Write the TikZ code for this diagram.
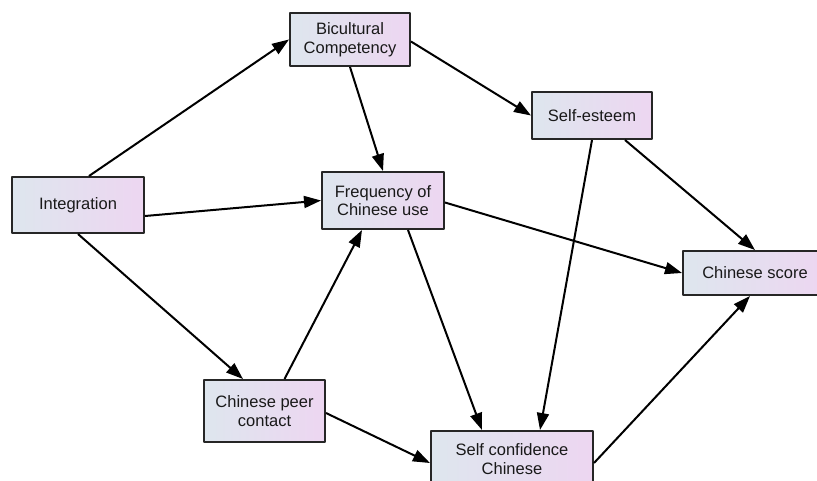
\documentclass[tikz,border=0pt]{standalone}
\usepackage{fontspec}
\setmainfont{Liberation Sans}
\usetikzlibrary{arrows.meta}
\definecolor{boxleft}{RGB}{222,230,238}
\definecolor{boxright}{RGB}{237,214,241}
\begin{document}
\begin{tikzpicture}[x=1pt,y=-1pt,line join=round,>={Triangle[length=17pt,width=12pt]},line width=2pt]
	\tikzset{box/.style={draw=black!85,line width=2pt,left color=boxleft,right color=boxright,align=center,inner sep=0pt,text=black!90,font=\fontsize{16.5}{18.5}\selectfont}}
	\useasboundingbox (0,0) rectangle (817,480);
	\node[box,minimum width=132pt,minimum height=56pt] (int) at (78,205) {Integration};
	\node[box,minimum width=120pt,minimum height=53pt] (bic) at (350,39.5) {Bicultural\\Competency};
	\node[box,minimum width=120pt,minimum height=47pt] (se) at (592,115.5) {Self-esteem};
	\node[box,minimum width=122pt,minimum height=57pt] (freq) at (383,200.5) {Frequency of\\Chinese use};
	\node[box,minimum width=121pt,minimum height=62pt] (peer) at (264.5,411) {Chinese peer\\contact};
	\node[box,minimum width=162pt,minimum height=56pt] (sc) at (512,459) {Self confidence\\Chinese};
	\node[box,minimum width=144pt,minimum height=44pt] (score) at (755,273) {Chinese score};
	\draw[->] ([xshift=11pt]int.north)--(bic.west);
	\draw[->] ([yshift=-11pt]int.east)--(freq.west);
	\draw[->] (int.south)--([xshift=-21.5pt]peer.north);
	\draw[->] (bic.south)--(freq.north);
	\draw[->] ([yshift=-2pt]bic.east)--(se.west);
	\draw[->] ([xshift=20pt]peer.north)--([xshift=-21pt]freq.south);
	\draw[->] ([yshift=-2pt]peer.east)--([yshift=-4pt]sc.west);
	\draw[->] ([xshift=25pt]freq.south)--([xshift=-30pt]sc.north);
	\draw[->] ([yshift=-2pt]freq.east)--(score.west);
	\draw[->] (se.south)--([xshift=28pt]sc.north);
	\draw[->] ([xshift=33pt]se.south)--(score.north);
	\draw[->] ([yshift=-4pt]sc.east)--([xshift=-5pt]score.south);
\end{tikzpicture}
\end{document}
